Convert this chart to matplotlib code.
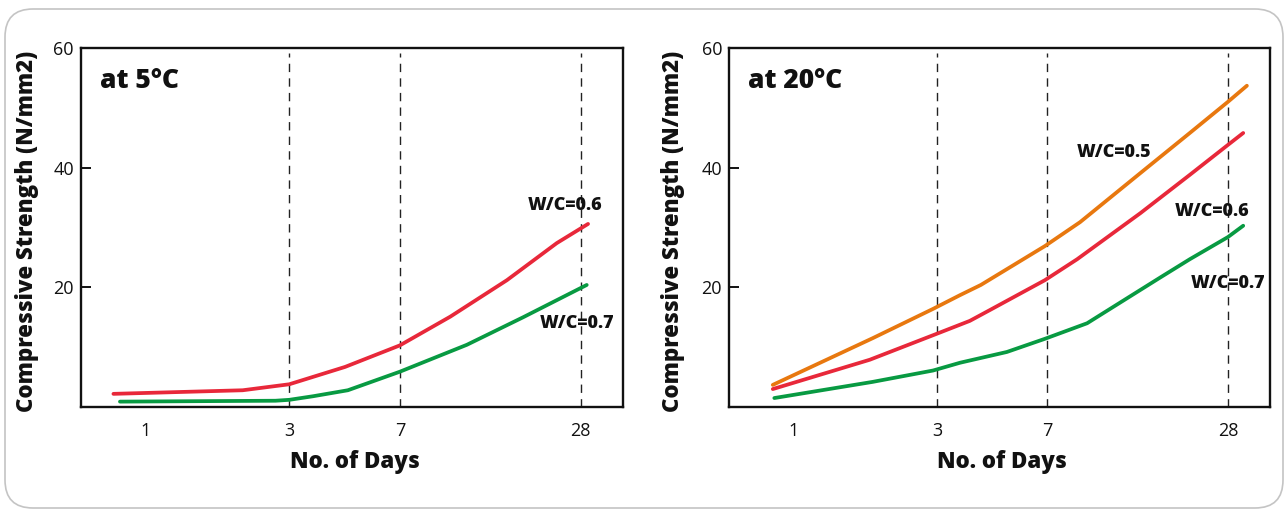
import matplotlib
matplotlib.use("Agg")
import matplotlib.pyplot as plt
from matplotlib.patches import FancyBboxPatch
from matplotlib.transforms import IdentityTransform

plt.rcParams['font.family'] = ['Open Sans', 'DejaVu Sans']

# x ticks (days) and y ticks
day_ticks = [1, 3, 7, 28]
day_labels = ['1', '3', '7', '28']
strength_ticks = [20, 40, 60]

# at 5 C
days_5c_w06 = [0.78, 2.1, 3.0, 4.6, 7.0, 10.3, 15.9, 23.3, 29.6]
str_5c_w06 = [2.2, 2.8, 3.8, 6.7, 10.3, 15.1, 21.2, 27.4, 30.6]
days_5c_w07 = [0.82, 2.7, 3.0, 3.6, 4.7, 7.0, 11.7, 18.0, 29.3]
str_5c_w07 = [0.9, 1.05, 1.2, 1.8, 2.8, 5.9, 10.4, 15.0, 20.4]

# at 20 C
days_20c_w05 = [0.85, 1.83, 2.91, 3.58, 4.2, 6.87, 9.0, 14.3, 20.9, 28, 32.4]
str_20c_w05 = [3.7, 11.5, 16.4, 18.7, 20.4, 26.9, 30.9, 39.1, 45.8, 51, 53.7]
days_20c_w06 = [0.85, 1.79, 2.91, 3.86, 4.5, 6.87, 8.8, 14.3, 20.9, 28, 31.5]
str_20c_w06 = [3.0, 7.9, 12.0, 14.4, 16.2, 21.2, 24.7, 32.4, 38.8, 43.8, 45.8]
days_20c_w07 = [0.86, 1.83, 2.91, 3.58, 5.13, 6.87, 9.5, 16.6, 20.9, 28, 31.5]
str_20c_w07 = [1.5, 4.2, 6.1, 7.4, 9.2, 11.4, 14.0, 21.6, 24.7, 28.4, 30.3]

RED = '#e8283a'
GREEN = '#089a42'
ORANGE = '#e8780f'
INK = '#111111'
HEAVY = 800

fig = plt.figure(figsize=(12.87, 5.11), dpi=100)

# rounded frame around the whole figure
frame = FancyBboxPatch((5, 3), 1278, 499, boxstyle="round,pad=0,rounding_size=28",
                       transform=IdentityTransform(), facecolor='none',
                       edgecolor='#c4c4c4', linewidth=1.2)
fig.add_artist(frame)

ax1 = fig.add_axes([0.0627, 0.2035, 0.4214, 0.7025])
ax2 = fig.add_axes([0.5664, 0.2035, 0.4204, 0.7025])


def style_axis(ax, title, ylab_x):
    ax.set_xscale('log')
    ax.set_xlim(0.607, 38.7)
    ax.set_ylim(0, 60)
    for d in day_ticks[1:]:
        ax.axvline(d, ymin=0, ymax=0.985, color='#222222', lw=1.0,
                   linestyle=(0, (6, 4.5)), zorder=1)
    ax.set_xticks(day_ticks)
    ax.set_xticklabels(day_labels)
    ax.xaxis.set_minor_locator(plt.NullLocator())
    ax.set_yticks(strength_ticks)
    ax.tick_params(axis='x', length=0, pad=11, labelsize=13, colors=INK)
    ax.tick_params(axis='y', direction='in', length=7, width=1.4, pad=5,
                   labelsize=13, colors=INK)
    for s in ax.spines.values():
        s.set_linewidth(1.7)
        s.set_color(INK)
    ax.set_ylabel('Compressive Strength (N/mm2)', fontsize=16, fontweight=HEAVY,
                  color=INK)
    ax.yaxis.set_label_coords(ylab_x, 0.49)
    ax.set_xlabel('No. of Days', fontsize=16, fontweight=HEAVY, color=INK)
    ax.xaxis.set_label_coords(0.505, -0.12)
    ax.text(0.036, 0.89, title, transform=ax.transAxes, fontsize=19,
            fontweight=HEAVY, color=INK, va='baseline', ha='left')


style_axis(ax1, 'at 5°C', -0.077)
style_axis(ax2, 'at 20°C', -0.082)

lw = 2.7
ax1.plot(days_5c_w06, str_5c_w06, color=RED, lw=lw, solid_capstyle='round', zorder=3)
ax1.plot(days_5c_w07, str_5c_w07, color=GREEN, lw=lw, solid_capstyle='round', zorder=3)
ax1.text(24.8, 33.6, 'W/C=0.6', fontsize=13, fontweight=HEAVY, color=INK,
         ha='center', va='center')
ax1.text(27.2, 14.0, 'W/C=0.7', fontsize=13, fontweight=HEAVY, color=INK,
         ha='center', va='center')

ax2.plot(days_20c_w05, str_20c_w05, color=ORANGE, lw=lw, solid_capstyle='round', zorder=3)
ax2.plot(days_20c_w06, str_20c_w06, color=RED, lw=lw, solid_capstyle='round', zorder=3)
ax2.plot(days_20c_w07, str_20c_w07, color=GREEN, lw=lw, solid_capstyle='round', zorder=3)
ax2.text(11.7, 42.5, 'W/C=0.5', fontsize=13, fontweight=HEAVY, color=INK,
         ha='center', va='center')
ax2.text(24.8, 32.6, 'W/C=0.6', fontsize=13, fontweight=HEAVY, color=INK,
         ha='center', va='center')
ax2.text(28.0, 20.7, 'W/C=0.7', fontsize=13, fontweight=HEAVY, color=INK,
         ha='center', va='center')

fig.savefig('out.png', dpi=100)
